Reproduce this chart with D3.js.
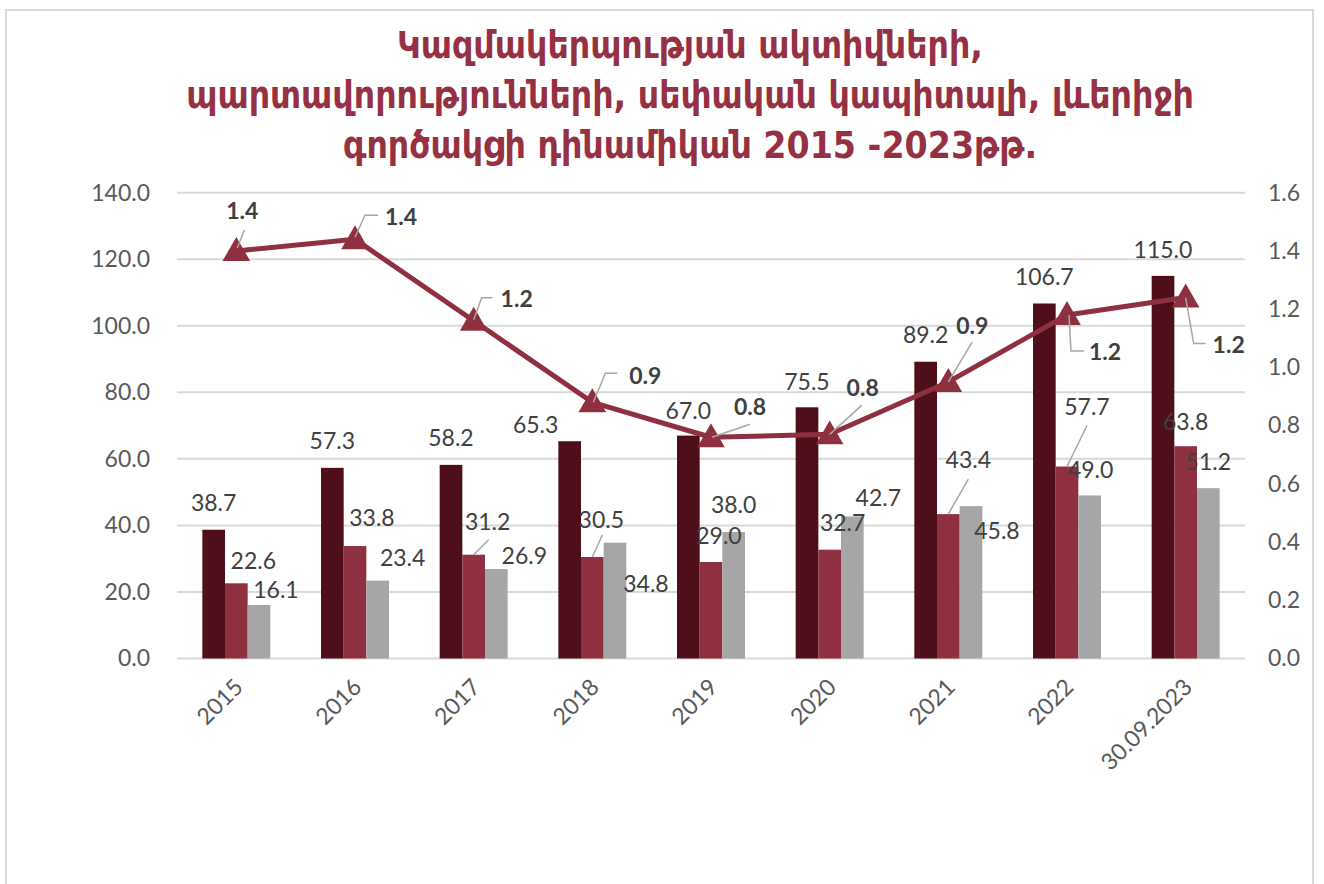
<!DOCTYPE html>
<html>
<head>
<meta charset="utf-8">
<script src="https://cdn.jsdelivr.net/npm/d3@7"></script>
<style>
  html, body { margin: 0; padding: 0; background: #fff; }
  svg { display: block; }
  .tick-label { font-family: Lato, "Open Sans", sans-serif; font-size: 23px; fill: #595959; }
  .bar-label { font-family: Lato, "Open Sans", sans-serif; font-size: 23px; fill: #404040; }
  .line-label { font-family: Lato, "Open Sans", sans-serif; font-size: 23px; font-weight: bold; fill: #404040; }
  .title { font-family: "DejaVu Sans Condensed", "DejaVu Sans", sans-serif; font-weight: bold; font-size: 37px; fill: #953142; }
</style>
</head>
<body>
<svg id="chart" width="1324" height="884"></svg>
<script>
// chart values
const categories = ["2015", "2016", "2017", "2018", "2019", "2020", "2021", "2022", "30.09.2023"];
const assets = [38.7, 57.3, 58.2, 65.3, 67.0, 75.5, 89.2, 106.7, 115.0];
const liabilities = [22.6, 33.8, 31.2, 30.5, 29.0, 32.7, 43.4, 57.7, 63.8];
const equity = [16.1, 23.4, 26.9, 34.8, 38.0, 42.7, 45.8, 49.0, 51.2];
const leverage = [1.40, 1.44, 1.16, 0.88, 0.76, 0.77, 0.95, 1.18, 1.24];
const leftTicks = [0, 20, 40, 60, 80, 100, 120, 140];
const rightTicks = [0, 0.2, 0.4, 0.6, 0.8, 1.0, 1.2, 1.4, 1.6];
const titleLines = [
  "Կազմակերպության ակտիվների,",
  "պարտավորությունների, սեփական կապիտալի, լևերիջի",
  "գործակցի դինամիկան 2015 -2023թթ."
];

// label placement (pixel offsets of the label centre from the bar top / marker)
const assetLabelShift = [[0,-27],[0,-27],[0,-27],[-34,-17],[0,-25],[0,-26],[0,-27],[0,-27],[0,-26]];
const liabLabelShift = [[17,-23],[17,-28],[14,-33],[9,-37],[8,-26],[13,-27],[20,-54],[20,-60],[0,-25]];
const equityLabelShift = [[17,-15],[25,-23],[28,-13],[31,41],[0,-27],[26,-19],[26,25],[1,-26],[0,-26]];
const lineLabelShift = [[6,-40],[46,-23],[43,-22],[53,-27],[39,-31],[33,-47],[24,-56],[38,37],[43,47]];
const liabLeaders = { 2: [[0,0],[15,-15]], 3: [[0,0],[10,-22]], 6: [[0,0],[20,-35]], 7: [[0,0],[20,-41]] };
const lineLeaders = [
  [[1,-3],[8,-21]],
  [[0,-2],[10,-24],[23,-24]],
  [[0,-1],[8,-23],[19,-23]],
  [[1,0],[13,-29],[25,-29]],
  [[1,0],[39,-13]],
  [[0,0],[32,-29]],
  [[0,0],[24,-40]],
  [[2,0],[4,36],[17,36]],
  [[0,0],[8,46],[20,46]]
];

const colors = ["#4e0f1a", "#8f3040", "#a6a6a6"];
const lineColor = "#8f3040";

const svg = d3.select("#chart");
const plot = { left: 177, right: 1245, top: 192.7, bottom: 658.5 };

// chart frame
svg.append("rect")
  .attr("x", 6).attr("y", 10)
  .attr("width", 1307).attr("height", 900)
  .attr("fill", "#fff")
  .attr("stroke", "#d9d9d9")
  .attr("stroke-width", 2);

// title
svg.append("g").selectAll("text")
  .data(titleLines)
  .join("text")
  .attr("class", "title")
  .attr("x", 690)
  .attr("y", (d, i) => 58 + i * 50)
  .attr("text-anchor", "middle")
  .text(d => d);

const x = d3.scaleBand()
  .domain(categories)
  .range([plot.left, plot.right])
  .paddingInner(0.427)
  .paddingOuter(0.2135);

const xSeries = d3.scaleBand()
  .domain([0, 1, 2])
  .range([0, x.bandwidth()]);

const y = d3.scaleLinear().domain([0, 140]).range([plot.bottom, plot.top]);
const y2 = d3.scaleLinear().domain([0, 1.6]).range([plot.bottom, plot.top]);

// gridlines
svg.append("g").selectAll("line")
  .data(leftTicks)
  .join("line")
  .attr("x1", plot.left).attr("x2", plot.right)
  .attr("y1", d => y(d)).attr("y2", d => y(d))
  .attr("stroke", "#d9d9d9")
  .attr("stroke-width", 2);

// left axis
const leftAxis = svg.append("g")
  .attr("transform", `translate(${plot.left},0)`)
  .call(d3.axisLeft(y).tickValues(leftTicks).tickFormat(d3.format(".1f")).tickSize(0).tickPadding(27));
leftAxis.select(".domain").remove();
leftAxis.selectAll("text").attr("class", "tick-label").attr("font-family", null).attr("font-size", null).attr("fill", null);

// right axis
const rightAxis = svg.append("g")
  .attr("transform", `translate(${plot.right},0)`)
  .call(d3.axisRight(y2).tickValues(rightTicks).tickFormat(d3.format(".1f")).tickSize(0).tickPadding(23));
rightAxis.select(".domain").remove();
rightAxis.selectAll("text").attr("class", "tick-label").attr("font-family", null).attr("font-size", null).attr("fill", null);

// bottom axis labels
const bottomAxis = svg.append("g")
  .attr("transform", `translate(0,${plot.bottom})`)
  .call(d3.axisBottom(x).tickSize(0).tickPadding(0));
bottomAxis.select(".domain").remove();
bottomAxis.selectAll("text")
  .attr("class", "tick-label")
  .attr("font-family", null).attr("font-size", null).attr("fill", null)
  .attr("y", null).attr("dy", null)
  .attr("text-anchor", "end")
  .attr("transform", "translate(8,30) rotate(-45)");

// bars
const seriesList = [assets, liabilities, equity];
const barGroup = svg.append("g");
seriesList.forEach((values, s) => {
  barGroup.append("g").selectAll("rect")
    .data(values)
    .join("rect")
    .attr("x", (d, i) => x(categories[i]) + xSeries(s))
    .attr("y", d => y(d))
    .attr("width", xSeries.bandwidth())
    .attr("height", d => y(0) - y(d))
    .attr("fill", colors[s]);
});

// leverage line
const linePoints = leverage.map((v, i) => [x(categories[i]) + x.bandwidth() / 2, y2(v)]);
svg.append("path")
  .datum(linePoints)
  .attr("d", d3.line())
  .attr("fill", "none")
  .attr("stroke", lineColor)
  .attr("stroke-width", 5)
  .attr("stroke-linejoin", "round");

svg.append("g").selectAll("path")
  .data(linePoints)
  .join("path")
  .attr("transform", d => `translate(${d[0]},${d[1] + 2})`)
  .attr("d", d3.symbol(d3.symbolTriangle, 330))
  .attr("fill", lineColor);

// leader lines
const leaderGroup = svg.append("g")
  .attr("fill", "none")
  .attr("stroke", "#a6a6a6")
  .attr("stroke-width", 1.5);

Object.entries(liabLeaders).forEach(([i, pts]) => {
  const bx = x(categories[i]) + xSeries(1) + xSeries.bandwidth() / 2;
  const by = y(liabilities[i]);
  leaderGroup.append("path").attr("d", d3.line()(pts.map(p => [bx + p[0], by + p[1]])));
});
lineLeaders.forEach((pts, i) => {
  const [mx, my] = linePoints[i];
  leaderGroup.append("path").attr("d", d3.line()(pts.map(p => [mx + p[0], my + p[1]])));
});

// bar labels
const shifts = [assetLabelShift, liabLabelShift, equityLabelShift];
seriesList.forEach((values, s) => {
  svg.append("g").selectAll("text")
    .data(values)
    .join("text")
    .attr("class", "bar-label")
    .attr("text-anchor", "middle")
    .attr("dy", "0.36em")
    .attr("x", (d, i) => x(categories[i]) + xSeries(s) + xSeries.bandwidth() / 2 + shifts[s][i][0])
    .attr("y", (d, i) => y(d) + shifts[s][i][1])
    .text(d => d3.format(".1f")(d));
});

// line labels
svg.append("g").selectAll("text")
  .data(leverage)
  .join("text")
  .attr("class", "line-label")
  .attr("text-anchor", "middle")
  .attr("dy", "0.36em")
  .attr("x", (d, i) => linePoints[i][0] + lineLabelShift[i][0])
  .attr("y", (d, i) => linePoints[i][1] + lineLabelShift[i][1])
  .text(d => d3.format(".1f")(d));
</script>
</body>
</html>
